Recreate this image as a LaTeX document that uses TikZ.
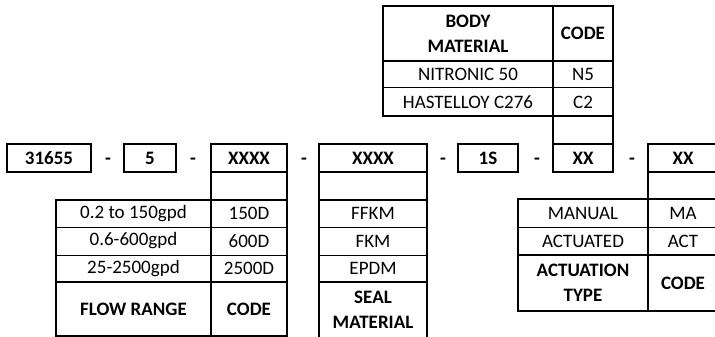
\documentclass[tikz,border=0pt]{standalone}
\usepackage{fontspec}
\setmainfont{Carlito}
\usetikzlibrary{positioning}

\tikzset{
  thk/.style={line width=2.6pt, line cap=rect},
  thn/.style={line width=1pt},
  cell/.style={inner sep=0pt, align=center, font=\fontsize{19}{25}\selectfont},
  hdr/.style={cell, font=\fontsize{19}{25}\selectfont\bfseries},
  sep/.style={cell, font=\fontsize{19}{25}\selectfont\bfseries},
}

\begin{document}
\begin{tikzpicture}[x=1pt,y=-1pt]
\useasboundingbox (0,0) rectangle (715,337);
% code row
\draw[thk] (7,144) rectangle (91,172);
\node[hdr] (pn) at (49,158) {31655};
\node[sep] (d1) at (108,161.5) {-};
\draw[thk] (124,144) rectangle (176,172);
\node[hdr] (sz) at (150,158) {5};
\node[sep] (d2) at (193,161.5) {-};
\draw[thk] (211,144) rectangle (287,172);
\node[hdr] (fr) at (249,158) {XXXX};
\node[sep] (d3) at (304,161.5) {-};
\draw[thk] (319,144) rectangle (427,172);
\node[hdr] (sm) at (373,158) {XXXX};
\node[sep] (d4) at (443,161.5) {-};
\draw[thk] (458,144) rectangle (518,172);
\node[hdr] (fx) at (488,158) {1S};
\node[sep] (d5) at (537,161.5) {-};
\draw[thk] (553,144) rectangle (613,172);
\node[hdr] (bm) at (583,158) {XX};
\node[sep] (d6) at (632,161.5) {-};
\draw[thk] (648,144) rectangle (720,172);
\node[hdr] (at) at (683,158) {XX};

% body material
\draw[thn] (383,88) -- (613,88);
\draw[thk] (383,6) rectangle (613,116);
\draw[thk] (383,61) -- (613,61);
\draw[thk] (553,6) -- (553,144);
\draw[thk] (613,116) -- (613,144);
\node[hdr] (bmh) at (468,33.5) {BODY\\MATERIAL};
\node[hdr] (bmc) at (583,33.5) {CODE};
\node[cell] (bm1) at (468,74.5) {NITRONIC 50};
\node[cell] (bm1c) at (583,74.5) {N5};
\node[cell] (bm2) at (468,102) {HASTELLOY C276};
\node[cell] (bm2c) at (583,102) {C2};

% flow range
\draw[thn] (56,227) -- (287,227) (56,255) -- (287,255);
\draw[thk] (56,200) rectangle (287,336);
\draw[thk] (56,282) -- (287,282);
\draw[thk] (211,172) -- (211,336);
\draw[thk] (287,172) -- (287,200);
\node[cell] (fr1) at (133.5,213.5) {0.2 to 150gpd};
\node[cell] (fr1c) at (249,213.5) {150D};
\node[cell] (fr2) at (133.5,241) {0.6-600gpd};
\node[cell] (fr2c) at (249,241) {600D};
\node[cell] (fr3) at (133.5,268.5) {25-2500gpd};
\node[cell] (fr3c) at (249,268.5) {2500D};
\node[hdr] (frh) at (133.5,309) {FLOW RANGE};
\node[hdr] (frc) at (249,309) {CODE};

% seal material
\draw[thn] (319,227) -- (427,227) (319,255) -- (427,255);
\draw[thk] (319,172) rectangle (427,345);
\draw[thk] (319,200) -- (427,200) (319,282) -- (427,282);
\node[cell] (sm1) at (373,213.5) {FFKM};
\node[cell] (sm2) at (373,241) {FKM};
\node[cell] (sm3) at (373,268.5) {EPDM};
\node[hdr] (smh) at (373,310) {SEAL\\MATERIAL};

% actuation type
\draw[thn] (518,227) -- (720,227);
\draw[thk] (518,199) rectangle (720,311);
\draw[thk] (518,255) -- (720,255);
\draw[thk] (648,172) -- (648,311);
\node[cell] (at1) at (583,213) {MANUAL};
\node[cell] (at1c) at (683,213) {MA};
\node[cell] (at2) at (583,241) {ACTUATED};
\node[cell] (at2c) at (683,241) {ACT};
\node[hdr] (ath) at (583,283) {ACTUATION\\TYPE};
\node[hdr] (atc) at (683,283) {CODE};
\end{tikzpicture}
\end{document}
